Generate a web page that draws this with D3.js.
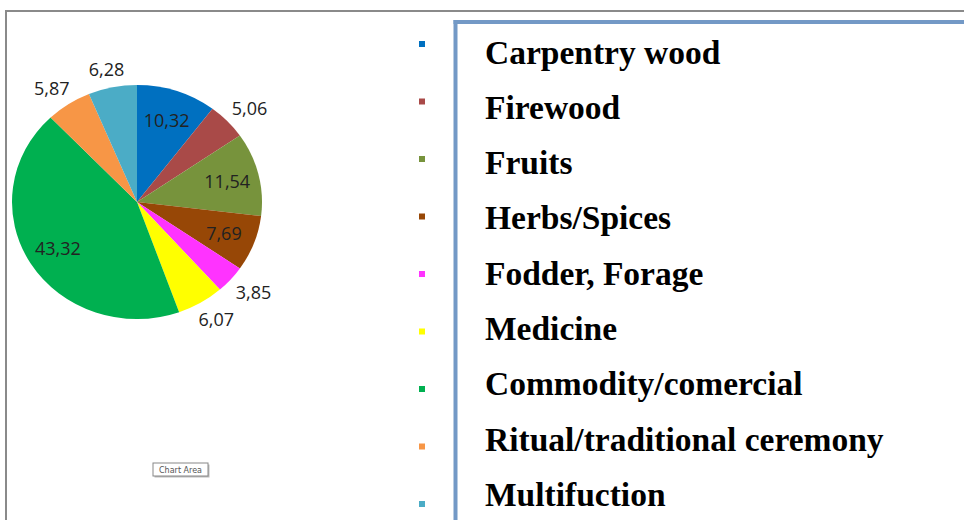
<!DOCTYPE html>
<html><head><meta charset="utf-8">
<script src="https://cdn.jsdelivr.net/npm/d3@7"></script>
<style>html,body{margin:0;padding:0;background:#fff;}svg{display:block;}</style>
</head><body>
<svg id="chart" width="964" height="520"></svg>
<script>
const categories = ["Carpentry wood","Firewood","Fruits","Herbs/Spices","Fodder, Forage","Medicine","Commodity/comercial","Ritual/traditional ceremony","Multifuction"];
const values = [10.32, 5.06, 11.54, 7.69, 3.85, 6.07, 43.32, 5.87, 6.28];
const labels = ["10,32","5,06","11,54","7,69","3,85","6,07","43,32","5,87","6,28"];
const colors = ["#0070C0","#A94A48","#77933C","#974706","#FF33FF","#FFFF00","#00B050","#F79646","#4BACC6"];

const svg = d3.select("#chart");

// outer gray frame
svg.append("line").attr("x1",6).attr("x2",964).attr("y1",11).attr("y2",11).attr("stroke","#8a8a8a").attr("stroke-width",2);
svg.append("line").attr("x1",6).attr("x2",6).attr("y1",10).attr("y2",520).attr("stroke","#8a8a8a").attr("stroke-width",2);

// legend blue frame
svg.append("line").attr("x1",453.5).attr("x2",964).attr("y1",22).attr("y2",22).attr("stroke","#7399C6").attr("stroke-width",4);
svg.append("line").attr("x1",455.5).attr("x2",455.5).attr("y1",20).attr("y2",520).attr("stroke","#7399C6").attr("stroke-width",4);

// pie
const cx = 137, cy = 202, r = 117, sx = 125/117;
const pie = d3.pie().sort(null).value(d => d)(values);
const arc = d3.arc().innerRadius(0).outerRadius(r);
const inArc = d3.arc().innerRadius(87).outerRadius(87);
const outArc = d3.arc().innerRadius(128).outerRadius(128);
const boxW = 38, boxH = 16;

function labelPos(d) {
  if (d.value >= 7) {
    const c = inArc.centroid(d);
    return [c[0] * sx, c[1]];
  }
  const c = outArc.centroid(d);
  const a = (d.startAngle + d.endAngle) / 2;
  return [c[0] * sx + Math.sin(a) * boxW / 2, c[1] - Math.cos(a) * boxH / 2];
}

const g = svg.append("g").attr("transform", `translate(${cx},${cy})`);
g.append("g").attr("transform", `scale(${sx},1)`)
  .selectAll("path").data(pie).join("path")
  .attr("d", arc).attr("fill", (d,i) => colors[i]);

g.selectAll("text").data(pie).join("text")
  .attr("x", d => labelPos(d)[0])
  .attr("y", d => labelPos(d)[1])
  .attr("text-anchor","middle").attr("dominant-baseline","central")
  .attr("font-family","'Open Sans', sans-serif").attr("font-size",18)
  .attr("fill","#222")
  .text((d,i) => labels[i]);

// legend
const mY = d3.scaleLinear().domain([0, categories.length-1]).range([44, 504]);
const tY = d3.scaleLinear().domain([0, categories.length-1]).range([63.5, 506]);
const lg = svg.append("g");
lg.selectAll("rect").data(categories).join("rect")
  .attr("x",419).attr("y",(d,i)=>mY(i)-3).attr("width",6).attr("height",6)
  .attr("fill",(d,i)=>colors[i]);
lg.selectAll("text").data(categories).join("text")
  .attr("x",485).attr("y",(d,i)=>tY(i))
  .attr("font-family","'Liberation Serif','Times New Roman',serif")
  .attr("font-weight","bold").attr("font-size",33.5).attr("fill","#000")
  .text(d=>d);

// "Chart Area" tooltip
const tip = svg.append("g").attr("transform","translate(153,463)");
tip.append("rect").attr("x",1.5).attr("y",1.5).attr("width",55).attr("height",13).attr("fill","#bbb");
tip.append("rect").attr("x",0).attr("y",0).attr("width",55).attr("height",13).attr("fill","#fff").attr("stroke","#888").attr("stroke-width",1);
tip.append("text").attr("x",27.5).attr("y",9.5).attr("text-anchor","middle")
  .attr("font-family","'DejaVu Sans', sans-serif").attr("font-size",8).attr("fill","#555").text("Chart Area");
</script>
</body></html>
